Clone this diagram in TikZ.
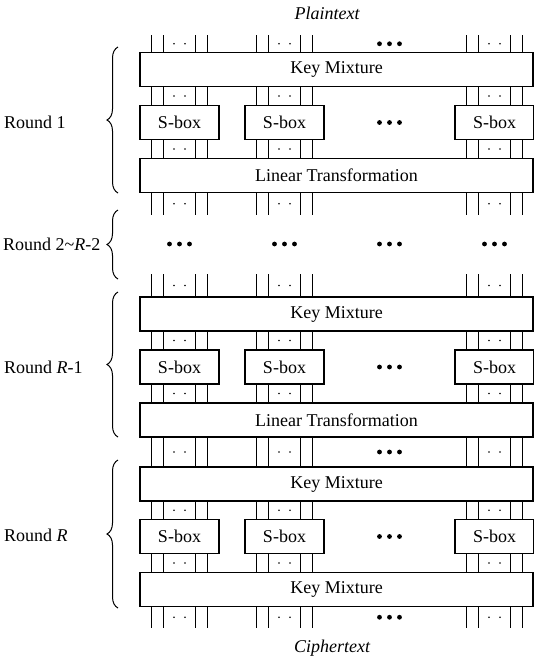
\documentclass[tikz,border=0pt]{standalone}
\usepackage{fontspec}
\setmainfont{Liberation Serif}
\usetikzlibrary{calc,decorations.pathreplacing}
\tikzset{
  widebox/.style={draw,line width=1.1pt,minimum width=393pt,minimum height=34pt,
    inner sep=0pt,outer sep=0pt,font=\fontsize{18}{22}\selectfont},
  sboxnode/.style={widebox,minimum width=79pt},
  wire/.style={line width=1.1pt},
  endlabel/.style={font=\fontsize{18}{22}\selectfont\itshape},
  roundlabel/.style={anchor=west,inner sep=0pt,font=\fontsize{18}{22}\selectfont},
  roundbrace/.style={decorate,decoration={brace,amplitude=11pt},line width=1pt}
}
% four wires of one column between two anchors, with the small dots
\newcommand\wiregap[3]{%
  \foreach \dx in {-28,-16,16,28}
    {\draw[wire] ($(#3 |- #1)+(\dx,0)$) -- ($(#3 |- #2)+(\dx,0)$);}
  \foreach \dx in {-5.5,5.5}
    {\fill ($(#3 |- #1)!.5!(#3 |- #2)+(\dx,0)$) circle (0.9pt);}
}
\newcommand\bigdots[1]{%
  \foreach \dx in {-10,0,10}
    {\fill ($(#1)+(\dx,0)$) circle (2.4pt);}
}

\begin{document}
\begin{tikzpicture}[x=1pt,y=-1pt]
  \useasboundingbox (0,0) rectangle (534,662);

  \foreach \c/\x in {1/179.5,2/284.5,3/389.5,4/494.5}
    \coordinate (col\c) at (\x,0);

  \node[endlabel] (plain) at (327,13) {Plaintext};
  \node[endlabel] (cipher) at (332,648) {Ciphertext};
  \coordinate (pin) at (336.5,35);
  \coordinate (gapa) at (336.5,215);
  \coordinate (rmid) at (336.5,244);
  \coordinate (gapb) at (336.5,274);
  \coordinate (pout) at (336.5,628);

  % Round 1
  \node[widebox] (km1) at (336.5,69.5) {Key Mixture};
  \foreach \c/\x in {1/179.5,2/284.5,4/494.5}
    \node[sboxnode] (sA\c) at (\x,122.5) {S-box};
  \node[widebox] (lt1) at (336.5,175.5) {Linear Transformation};

  % Round R-1
  \node[widebox] (km2) at (336.5,314) {Key Mixture};
  \foreach \c/\x in {1/179.5,2/284.5,4/494.5}
    \node[sboxnode] (sB\c) at (\x,367) {S-box};
  \node[widebox] (lt2) at (336.5,420) {Linear Transformation};

  % Round R
  \node[widebox] (km3) at (336.5,484) {Key Mixture};
  \foreach \c/\x in {1/179.5,2/284.5,4/494.5}
    \node[sboxnode] (sC\c) at (\x,536.5) {S-box};
  \node[widebox] (km4) at (336.5,589.5) {Key Mixture};

  % wires
  \foreach \c in {1,2,4} {
    \wiregap{pin}{km1.north}{col\c}
    \wiregap{km1.south}{sA\c.north}{col\c}
    \wiregap{sA\c.south}{lt1.north}{col\c}
    \wiregap{lt1.south}{gapa}{col\c}
    \wiregap{gapb}{km2.north}{col\c}
    \wiregap{km2.south}{sB\c.north}{col\c}
    \wiregap{sB\c.south}{lt2.north}{col\c}
    \wiregap{lt2.south}{km3.north}{col\c}
    \wiregap{km3.south}{sC\c.north}{col\c}
    \wiregap{sC\c.south}{km4.north}{col\c}
    \wiregap{km4.south}{pout}{col\c}
  }

  % elided columns and rounds
  \coordinate (d1) at ($(col3 |- pin)!.5!(col3 |- km1.north)$);
  \coordinate (d2) at ($(col3 |- lt2.south)!.5!(col3 |- km3.north)$);
  \coordinate (d3) at ($(col3 |- km4.south)!.5!(col3 |- pout)$);
  \bigdots{d1}
  \bigdots{d2}
  \bigdots{d3}
  \bigdots{col3 |- sA1}
  \bigdots{col3 |- sB1}
  \bigdots{col3 |- sC1}
  \foreach \c in {1,2,3,4}
    {\bigdots{col\c |- rmid}}

  % rounds
  \draw[roundbrace] (118,193) -- (118,47);
  \draw[roundbrace] (118,279) -- (118,210);
  \draw[roundbrace] (118,437) -- (118,292);
  \draw[roundbrace] (118,608) -- (118,460);
  \node[roundlabel] (r1) at (4,122) {Round 1};
  \node[roundlabel] (r2) at (3,244) {Round 2\textasciitilde\textit{R}-2};
  \node[roundlabel] (r3) at (4,367) {Round \textit{R}-1};
  \node[roundlabel] (r4) at (4,535) {Round \textit{R}};
\end{tikzpicture}
\end{document}
